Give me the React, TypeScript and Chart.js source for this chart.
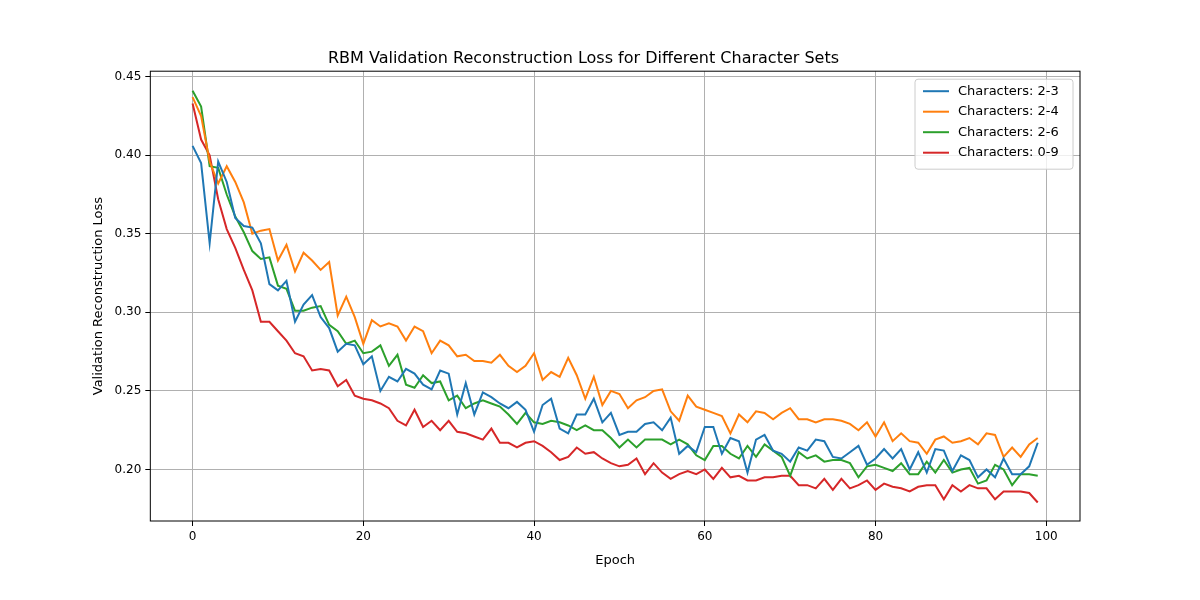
import React, { useEffect, useRef } from 'react';
import Chart from 'chart.js/auto';

const epochs: number[] = Array.from({ length: 100 }, (_, i) => i);

const seriesNames = ['Characters: 2-3', 'Characters: 2-4', 'Characters: 2-6', 'Characters: 0-9'];
const seriesColors = ['#1f77b4', '#ff7f0e', '#2ca02c', '#d62728'];

const loss23 = [
  0.406, 0.395, 0.344, 0.396, 0.383, 0.360, 0.355, 0.354, 0.344, 0.318,
  0.314, 0.320, 0.294, 0.305, 0.311, 0.297, 0.290, 0.275, 0.280, 0.279,
  0.267, 0.272, 0.250, 0.259, 0.256, 0.264, 0.261, 0.254, 0.251, 0.263,
  0.261, 0.235, 0.255, 0.235, 0.249, 0.246, 0.242, 0.239, 0.243, 0.238,
  0.224, 0.241, 0.245, 0.226, 0.223, 0.235, 0.235, 0.245, 0.230, 0.236,
  0.222, 0.224, 0.224, 0.229, 0.230, 0.225, 0.233, 0.210, 0.215, 0.211,
  0.227, 0.227, 0.210, 0.220, 0.218, 0.198, 0.219, 0.222, 0.212, 0.210,
  0.205, 0.214, 0.212, 0.219, 0.218, 0.208, 0.207, 0.211, 0.215, 0.203,
  0.207, 0.213, 0.207, 0.213, 0.200, 0.211, 0.198, 0.213, 0.212, 0.199,
  0.209, 0.206, 0.195, 0.200, 0.195, 0.207, 0.197, 0.197, 0.202, 0.217,
];
const loss24 = [
  0.437, 0.425, 0.396, 0.382, 0.393, 0.383, 0.370, 0.350, 0.352, 0.353,
  0.333, 0.343, 0.326, 0.338, 0.333, 0.327, 0.332, 0.298, 0.310, 0.297,
  0.280, 0.295, 0.291, 0.293, 0.291, 0.282, 0.291, 0.288, 0.274, 0.282,
  0.279, 0.272, 0.273, 0.269, 0.269, 0.268, 0.273, 0.266, 0.262, 0.266,
  0.274, 0.257, 0.262, 0.259, 0.271, 0.260, 0.245, 0.259, 0.241, 0.250,
  0.248, 0.239, 0.244, 0.246, 0.250, 0.251, 0.237, 0.231, 0.247, 0.240,
  0.238, 0.236, 0.234, 0.223, 0.235, 0.230, 0.237, 0.236, 0.232, 0.236,
  0.239, 0.232, 0.232, 0.230, 0.232, 0.232, 0.231, 0.229, 0.225, 0.230,
  0.221, 0.230, 0.218, 0.223, 0.218, 0.217, 0.210, 0.219, 0.221, 0.217,
  0.218, 0.220, 0.216, 0.223, 0.222, 0.208, 0.214, 0.208, 0.216, 0.220,
];
const loss26 = [
  0.441, 0.431, 0.393, 0.392, 0.375, 0.361, 0.351, 0.339, 0.334, 0.335,
  0.317, 0.315, 0.301, 0.301, 0.303, 0.304, 0.292, 0.288, 0.280, 0.282,
  0.274, 0.275, 0.279, 0.266, 0.273, 0.254, 0.252, 0.260, 0.255, 0.256,
  0.244, 0.247, 0.239, 0.242, 0.244, 0.242, 0.240, 0.235, 0.229, 0.236,
  0.230, 0.229, 0.231, 0.230, 0.228, 0.225, 0.228, 0.225, 0.225, 0.220,
  0.214, 0.219, 0.214, 0.219, 0.219, 0.219, 0.216, 0.219, 0.216, 0.209,
  0.206, 0.215, 0.215, 0.210, 0.207, 0.215, 0.208, 0.216, 0.212, 0.208,
  0.196, 0.211, 0.207, 0.209, 0.205, 0.206, 0.206, 0.204, 0.195, 0.202,
  0.203, 0.201, 0.199, 0.204, 0.197, 0.197, 0.205, 0.198, 0.206, 0.198,
  0.200, 0.201, 0.191, 0.193, 0.203, 0.200, 0.190, 0.197, 0.197, 0.196,
];
const loss09 = [
  0.433, 0.410, 0.400, 0.372, 0.353, 0.341, 0.327, 0.314, 0.294, 0.294,
  0.288, 0.282, 0.274, 0.272, 0.263, 0.264, 0.263, 0.253, 0.257, 0.247,
  0.245, 0.244, 0.242, 0.239, 0.231, 0.228, 0.238, 0.227, 0.231, 0.225,
  0.231, 0.224, 0.223, 0.221, 0.219, 0.226, 0.217, 0.217, 0.214, 0.217,
  0.218, 0.215, 0.211, 0.206, 0.208, 0.214, 0.210, 0.211, 0.207, 0.204,
  0.202, 0.203, 0.207, 0.197, 0.204, 0.198, 0.194, 0.197, 0.199, 0.197,
  0.200, 0.194, 0.201, 0.195, 0.196, 0.193, 0.193, 0.195, 0.195, 0.196,
  0.196, 0.190, 0.190, 0.188, 0.194, 0.187, 0.194, 0.188, 0.190, 0.193,
  0.187, 0.191, 0.189, 0.188, 0.186, 0.189, 0.190, 0.190, 0.181, 0.190,
  0.186, 0.190, 0.188, 0.188, 0.181, 0.186, 0.186, 0.186, 0.185, 0.179,
];

const xTicks = [0, 20, 40, 60, 80, 100];
const yTicks = [0.2, 0.25, 0.3, 0.35, 0.4, 0.45];

const FONT = 'DejaVu Sans';

// frame around plot area and matplotlib-like legend
const framePlugin = {
  id: 'frame',
  afterDatasetsDraw(chart: any) {
    const { ctx, chartArea: a } = chart;
    ctx.save();
    ctx.strokeStyle = '#000';
    ctx.lineWidth = 1;
    ctx.strokeRect(a.left, a.top, a.right - a.left, a.bottom - a.top);

    const w = 158, rowH = 20.5, h = 12 + seriesNames.length * rowH - 4;
    const x0 = a.right - w - 7, y0 = a.top + 8;
    ctx.fillStyle = 'rgba(255,255,255,0.8)';
    ctx.strokeStyle = '#cccccc';
    ctx.beginPath();
    ctx.roundRect(x0, y0, w, h, 3);
    ctx.fill();
    ctx.stroke();
    ctx.font = `13px ${FONT}`;
    ctx.textBaseline = 'middle';
    seriesNames.forEach((name, i) => {
      const y = y0 + 12 + i * rowH;
      ctx.strokeStyle = seriesColors[i];
      ctx.lineWidth = 2;
      ctx.beginPath();
      ctx.moveTo(x0 + 8, y);
      ctx.lineTo(x0 + 34, y);
      ctx.stroke();
      ctx.fillStyle = '#000';
      ctx.fillText(name, x0 + 43, y);
    });
    ctx.restore();
  },
};

const App: React.FC = () => {
  const canvasRef = useRef<HTMLCanvasElement>(null);

  useEffect(() => {
    document.body.style.margin = '0';
    if (!canvasRef.current) return;
    const chart = new Chart(canvasRef.current, {
      type: 'line',
      data: {
        labels: epochs,
        datasets: [loss23, loss24, loss26, loss09].map((d, i) => ({
          label: seriesNames[i],
          data: d.map((v, j) => ({ x: epochs[j], y: v })),
          borderColor: seriesColors[i],
          backgroundColor: seriesColors[i],
          borderWidth: 2,
          pointRadius: 0,
          tension: 0,
        })),
      },
      options: {
        responsive: false,
        animation: false,
        layout: { padding: { left: 87, right: 120, top: 10, bottom: 28 } },
        plugins: {
          legend: { display: false },
          tooltip: { enabled: false },
          title: {
            display: true,
            text: 'RBM Validation Reconstruction Loss for Different Character Sets',
            color: '#000',
            font: { family: FONT, size: 16, weight: 'normal' },
            padding: { top: 39, bottom: 3 },
          },
        },
        scales: {
          x: {
            type: 'linear',
            min: -4.95,
            max: 103.95,
            afterBuildTicks: (axis: any) => {
              axis.ticks = xTicks.map((v) => ({ value: v }));
            },
            ticks: { color: '#000', font: { family: FONT, size: 12 }, padding: 4 },
            grid: { color: '#b0b0b0', tickColor: '#000', tickLength: 5 },
            border: { display: false },
            title: { display: true, text: 'Epoch', color: '#000', font: { family: FONT, size: 13 } },
          },
          y: {
            min: 0.1672,
            max: 0.4535,
            afterBuildTicks: (axis: any) => {
              axis.ticks = yTicks.map((v) => ({ value: v }));
            },
            ticks: {
              color: '#000',
              font: { family: FONT, size: 12 },
              padding: 4,
              callback: (v: any) => Number(v).toFixed(2),
            },
            grid: { color: '#b0b0b0', tickColor: '#000', tickLength: 5 },
            border: { display: false },
            title: {
              display: true,
              text: 'Validation Reconstruction Loss',
              color: '#000',
              font: { family: FONT, size: 13 },
            },
          },
        },
      },
      plugins: [framePlugin],
    });
    return () => chart.destroy();
  }, []);

  return <canvas ref={canvasRef} width={1200} height={600} style={{ display: 'block' }} />;
};

export default App;
